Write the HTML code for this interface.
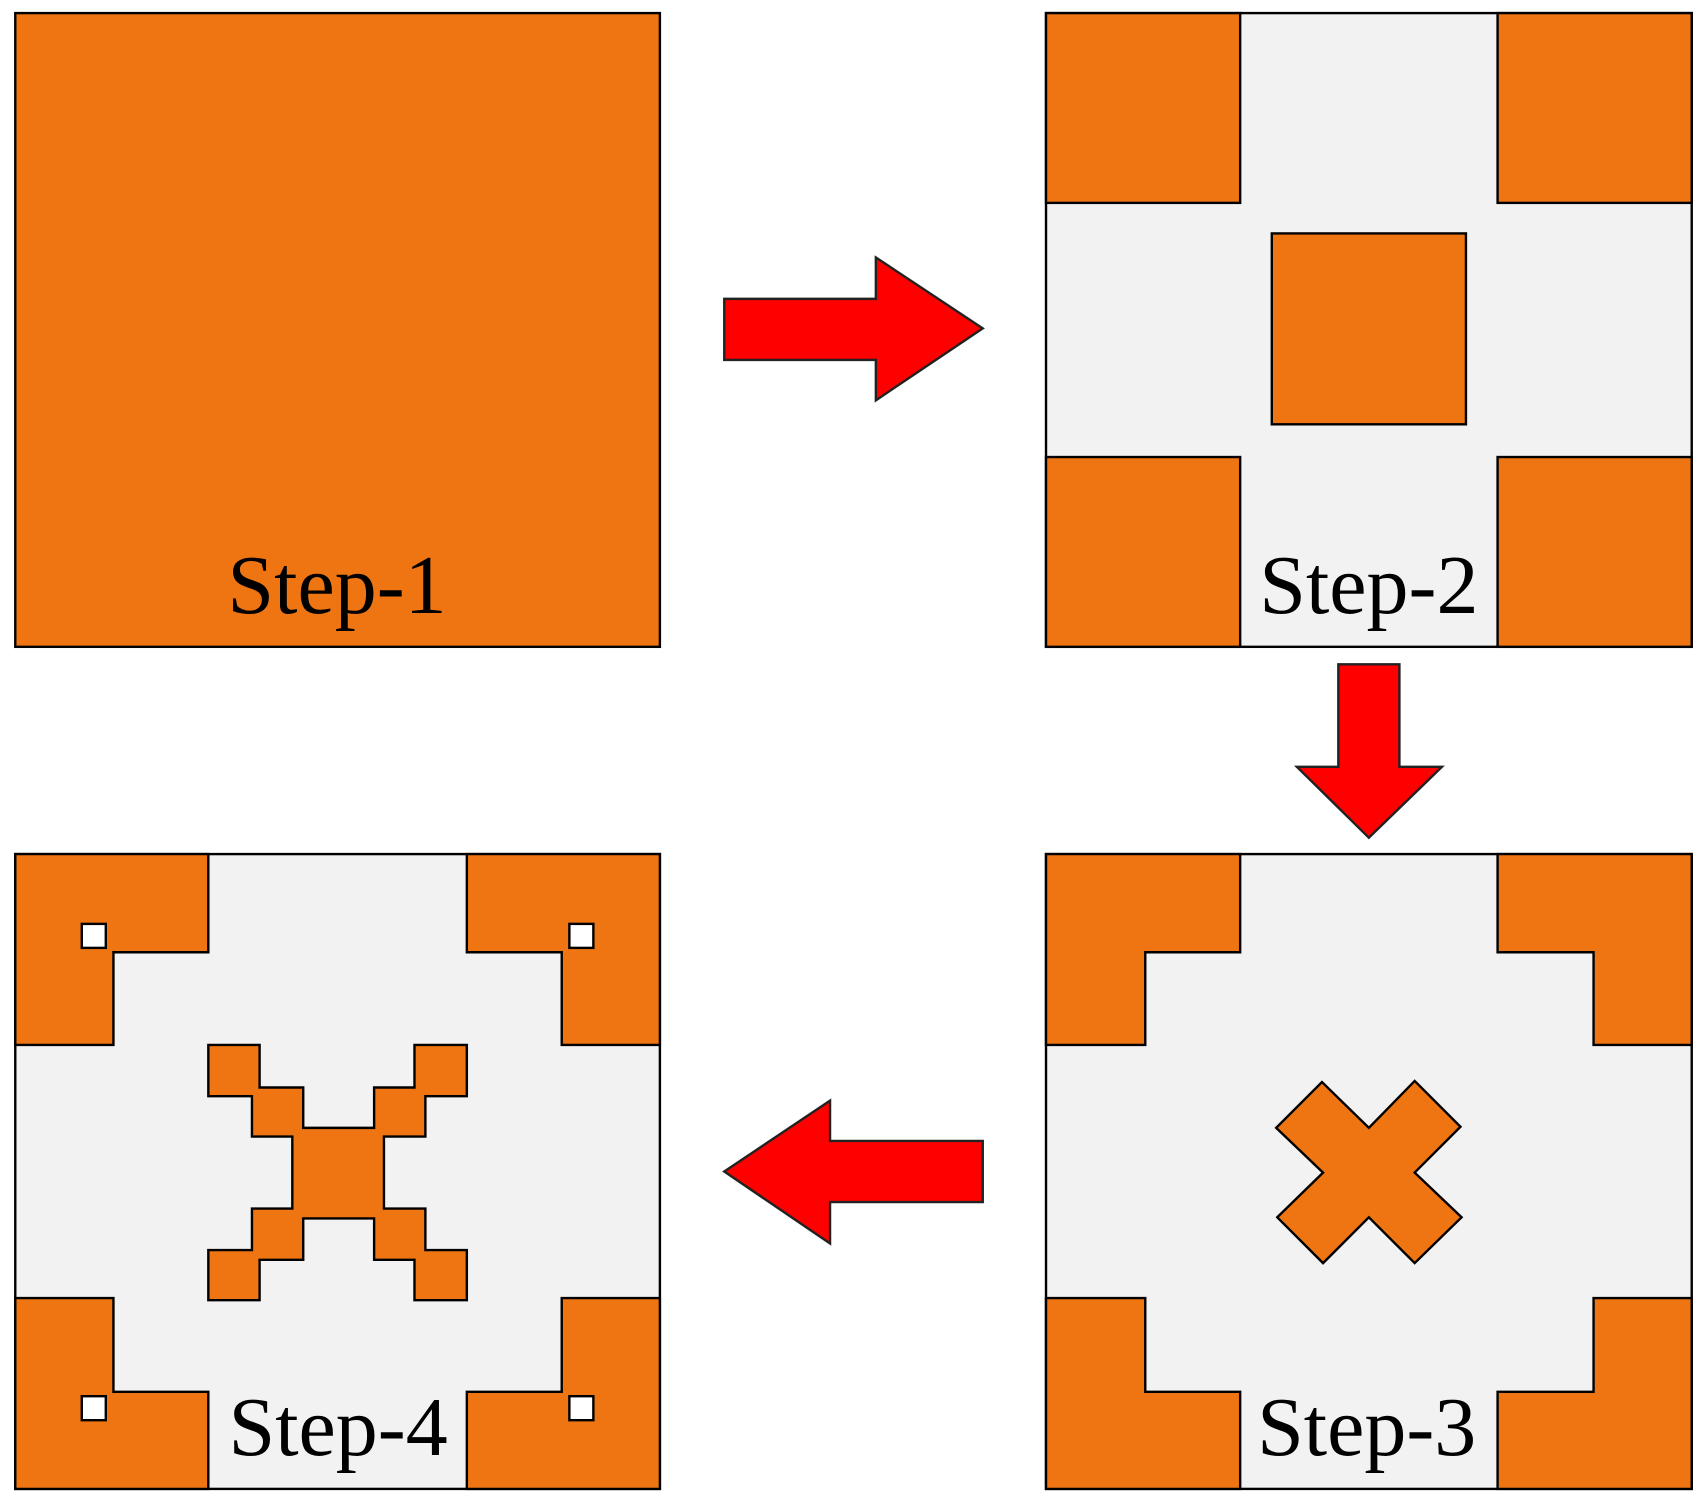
<!DOCTYPE html>
<html><head><meta charset="utf-8"><style>html,body{margin:0;padding:0;background:#fff}svg{display:block}</style></head>
<body>
<svg width="1707" height="1502" viewBox="0 0 1565 1377" preserveAspectRatio="none" xmlns="http://www.w3.org/2000/svg">
<g stroke="#000" stroke-width="2.2" stroke-linejoin="miter">
<rect x="14" y="12" width="591" height="581" fill="#EF7512"/>
<rect x="959" y="12" width="592" height="581" fill="#F2F2F2"/>
<rect x="959" y="12" width="178" height="174" fill="#EF7512"/>
<rect x="1373" y="12" width="178" height="174" fill="#EF7512"/>
<rect x="959" y="419" width="178" height="174" fill="#EF7512"/>
<rect x="1373" y="419" width="178" height="174" fill="#EF7512"/>
<rect x="1166" y="214" width="178" height="175" fill="#EF7512"/>
<rect x="959" y="783" width="592" height="582" fill="#F2F2F2"/>
<polygon fill="#EF7512" points="959,783 1137,783 1137,873 1050,873 1050,958 959,958"/>
<polygon fill="#EF7512" points="1551,783 1373,783 1373,873 1461,873 1461,958 1551,958"/>
<polygon fill="#EF7512" points="959,1365 1137,1365 1137,1276 1050,1276 1050,1190 959,1190"/>
<polygon fill="#EF7512" points="1551,1365 1373,1365 1373,1276 1461,1276 1461,1190 1551,1190"/>
<polygon fill="#EF7512" points="1170,1034 1212,992 1255,1034 1297,991 1339,1033 1297,1075 1340,1116 1297,1158 1255,1116 1213,1158 1171,1116 1213,1075"/>
<rect x="14" y="783" width="591" height="582" fill="#F2F2F2"/>
<polygon fill="#EF7512" points="14,783 191,783 191,873 104,873 104,958 14,958"/>
<polygon fill="#EF7512" points="605,783 428,783 428,873 515,873 515,958 605,958"/>
<polygon fill="#EF7512" points="14,1365 191,1365 191,1276 104,1276 104,1190 14,1190"/>
<polygon fill="#EF7512" points="605,1365 428,1365 428,1276 515,1276 515,1190 605,1190"/>
<rect x="75" y="847" width="22" height="22" fill="#fff"/>
<rect x="522" y="847" width="22" height="22" fill="#fff"/>
<rect x="75" y="1280" width="22" height="22" fill="#fff"/>
<rect x="522" y="1280" width="22" height="22" fill="#fff"/>
<polygon fill="#EF7512" points="191,958 238,958 238,997 278,997 278,1034 343,1034 343,997 380,997 380,958 428,958 428,1005 390,1005 390,1042 352,1042 352,1108 390,1108 390,1146 428,1146 428,1192 380,1192 380,1155 343,1155 343,1117 278,1117 278,1155 238,1155 238,1192 191,1192 191,1146 231,1146 231,1108 268,1108 268,1042 231,1042 231,1005 191,1005"/>
<polygon fill="#FF0000" stroke="#222" points="664,274 803,274 803,236 901,301 803,367 803,330 664,330"/>
<polygon fill="#FF0000" stroke="#222" points="1227,609 1283,609 1283,703 1322,703 1255,768 1189,703 1227,703"/>
<polygon fill="#FF0000" stroke="#222" points="901,1046 761,1046 761,1009 664,1074 761,1140 761,1102 901,1102"/>
</g>
<g font-family="Liberation Serif, serif" font-size="77" text-anchor="middle" fill="#000">
<text x="309" y="562">Step-1</text>
<text x="1255" y="562">Step-2</text>
<text x="1253" y="1334">Step-3</text>
<text x="310" y="1334">Step-4</text>
</g>
</svg>
</body></html>
